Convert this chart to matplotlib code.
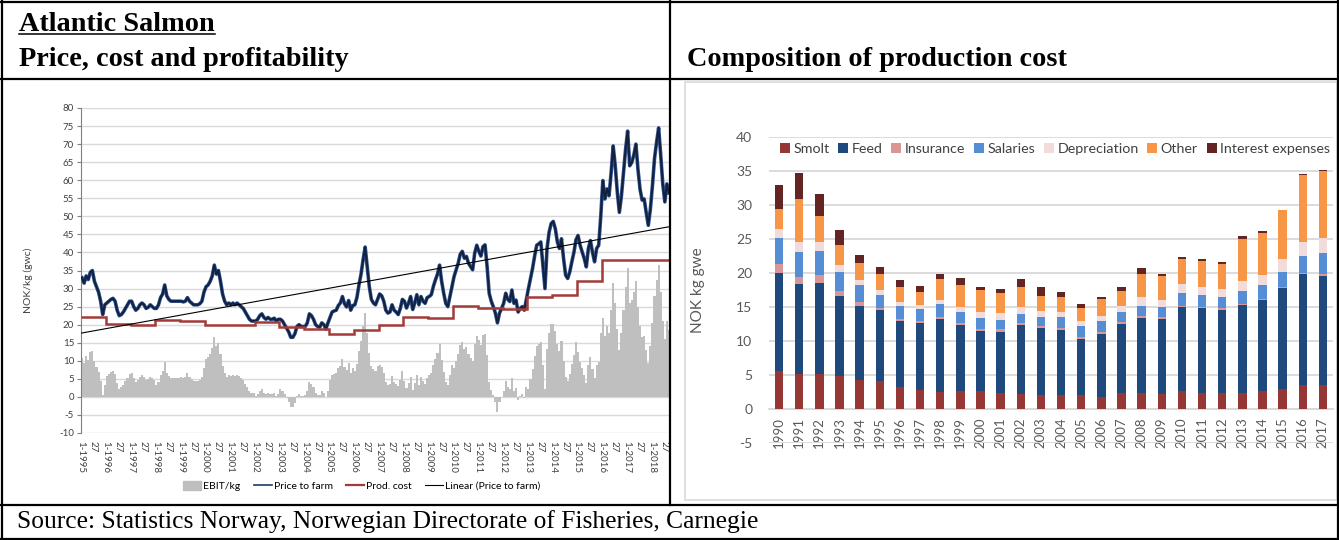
import matplotlib
matplotlib.use("Agg")
import matplotlib.pyplot as plt
import numpy as np
from matplotlib.lines import Line2D
from matplotlib.patches import Rectangle, Patch
import matplotlib.patheffects as pe

plt.rcParams["font.family"] = ["Lato", "DejaVu Sans"]
plt.rcParams["axes.unicode_minus"] = False

W, H = 1339, 540

# ---- left chart: price to farm (NOK/kg), one value per month ----
first_year = 1995
price_to_farm = [
    33.0, 31.5, 33.5, 32.5, 34.5, 35.0, 32.0, 30.5, 29.0, 26.5, 22.8, 25.5,  # 1995
    26.0, 26.5, 27.0, 27.3, 26.5, 24.0, 22.5, 22.8, 23.5, 24.5, 25.5, 26.5,  # 1996
    26.5, 25.0, 24.0, 24.5, 25.5, 26.0, 25.5, 24.5, 24.8, 25.5, 25.0, 24.5,  # 1997
    24.5, 25.5, 27.5, 28.5, 31.0, 28.0, 27.0, 26.5, 26.5, 26.5, 26.5, 26.5,  # 1998
    26.5, 26.3, 26.5, 27.5, 26.5, 26.0, 25.5, 25.5, 25.5, 25.8, 26.5, 29.0,  # 1999
    30.5, 31.0, 32.0, 33.5, 36.5, 34.0, 35.0, 32.0, 28.5, 26.5, 25.5, 26.0,  # 2000
    25.5, 26.0, 25.5, 26.0, 25.5, 25.0, 24.5, 23.5, 22.5, 21.5, 21.0, 21.0,  # 2001
    21.0, 21.5, 22.5, 23.0, 22.0, 21.5, 22.0, 21.5, 21.5, 21.8, 21.0, 21.5,  # 2002
    21.5, 21.0, 20.0, 19.0, 18.0, 16.5, 16.5, 17.5, 19.5, 20.0, 19.5, 19.5,  # 2003
    19.5, 20.5, 23.0, 22.5, 21.5, 20.0, 19.5, 19.3, 20.5, 20.0, 18.8, 20.5,  # 2004
    22.0, 23.5, 23.8, 24.0, 25.3, 26.0, 27.8, 25.8, 24.9, 26.7, 24.0, 25.3,  # 2005
    25.5, 27.5, 31.0, 34.0, 38.0, 41.5, 36.0, 30.5, 27.0, 26.0, 25.5, 27.0,  # 2006
    28.5, 28.0, 26.5, 24.0, 23.2, 23.5, 25.5, 24.0, 23.5, 22.8, 24.5, 27.0,  # 2007
    26.5, 24.6, 26.0, 27.8, 24.2, 26.0, 28.3, 25.5, 27.8, 26.5, 25.9, 27.5,  # 2008
    27.8, 28.3, 30.6, 32.4, 34.0, 36.5, 32.0, 28.7, 25.9, 25.0, 27.8, 30.5,  # 2009
    33.3, 35.2, 37.0, 39.5, 40.3, 38.4, 38.9, 37.0, 36.1, 35.2, 39.8, 42.0,  # 2010
    40.3, 39.0, 41.6, 42.1, 36.1, 28.7, 26.5, 25.0, 23.2, 20.5, 23.2, 24.5,  # 2011
    25.9, 28.7, 27.0, 26.4, 29.6, 25.9, 26.8, 23.5, 24.5, 25.0, 24.0, 27.0,  # 2012
    30.0, 32.8, 35.6, 39.0, 42.0, 42.4, 42.9, 36.5, 30.0, 41.1, 45.6, 48.0,  # 2013
    48.6, 46.6, 42.9, 41.1, 43.8, 38.3, 33.7, 32.8, 34.6, 37.4, 40.0, 43.5,  # 2014
    44.7, 42.0, 40.1, 38.3, 36.0, 41.1, 43.3, 40.0, 37.4, 41.1, 42.0, 50.0,  # 2015
    59.9, 54.8, 57.6, 55.7, 62.0, 69.5, 64.0, 56.7, 51.1, 55.7, 62.0, 68.5,  # 2016
    73.6, 64.0, 64.9, 67.0, 70.0, 63.0, 57.5, 54.5, 54.8, 51.0, 47.5, 52.0,  # 2017
    58.5, 66.0, 70.5, 74.5, 67.0, 59.0, 54.0, 59.0, 56.5,                    # 2018
]
cost_years = list(range(1995, 2019))
prod_cost = [22.2, 20.2, 19.9, 21.3, 21.0, 20.0, 19.8, 20.8, 19.3, 18.9, 17.4, 18.4,
             19.8, 22.2, 21.8, 25.2, 24.6, 24.3, 27.8, 28.3, 32.2, 38.0, 38.0, 38.0]

# ---- right chart: composition of production cost (NOK per kg gwe) ----
years = list(range(1990, 2018))
smolt = [5.6, 5.2, 5.2, 4.9, 4.3, 4.1, 3.3, 2.8, 2.5, 2.7, 2.6, 2.4, 2.2, 2.1,
         2.1, 2.1, 1.7, 2.3, 2.3, 2.2, 2.7, 2.4, 2.3, 2.4, 2.7, 2.9, 3.5, 3.5]
feed = [14.4, 13.2, 13.4, 11.7, 10.8, 10.4, 9.6, 9.9, 10.8, 9.6, 8.8, 8.9, 10.1, 9.8,
        9.5, 8.2, 9.4, 10.2, 11.1, 11.1, 12.3, 12.5, 12.3, 12.9, 13.3, 14.9, 16.3, 16.1]
insurance = [1.3, 1.0, 1.1, 0.7, 0.7, 0.4, 0.3, 0.2, 0.2, 0.3, 0.3, 0.4, 0.3, 0.3,
             0.3, 0.3, 0.2, 0.3, 0.3, 0.2, 0.2, 0.1, 0.2, 0.2, 0.2, 0.2, 0.2, 0.2]
salaries = [3.8, 3.7, 3.5, 2.9, 2.4, 1.9, 2.0, 1.8, 1.9, 1.7, 1.7, 1.4, 1.4, 1.4,
            1.6, 1.6, 1.6, 1.4, 1.5, 1.5, 1.9, 1.7, 1.6, 1.9, 2.0, 2.1, 2.5, 3.1]
depreciation = [1.3, 1.4, 1.4, 1.0, 0.8, 0.7, 0.5, 0.6, 0.7, 0.7, 0.8, 1.0, 1.0, 0.8,
                0.8, 0.8, 0.8, 1.0, 1.3, 1.0, 1.3, 1.3, 1.3, 1.4, 1.5, 1.9, 2.1, 2.2]
other = [3.0, 6.4, 3.8, 2.9, 2.4, 2.3, 2.2, 1.9, 3.0, 3.2, 3.3, 3.0, 3.0, 2.2,
         2.1, 1.8, 2.5, 2.2, 3.3, 3.5, 3.7, 3.8, 3.6, 6.2, 6.2, 7.2, 9.8, 9.9]
interest = [3.6, 3.8, 3.2, 2.2, 1.3, 1.1, 1.0, 0.9, 0.8, 1.0, 0.5, 0.5, 1.1, 1.3,
            0.8, 0.6, 0.3, 0.5, 1.0, 0.3, 0.3, 0.2, 0.3, 0.4, 0.3, 0.1, 0.1, 0.2]

components = ["Smolt", "Feed", "Insurance", "Salaries", "Depreciation", "Other", "Interest expenses"]
comp_colors = ["#953735", "#1F497D", "#D99694", "#558ED5", "#F2DCDB", "#F79646", "#632523"]


def fx(px):
    return px / W


def fy(py):
    return 1 - py / H


fig = plt.figure(figsize=(W / 100, H / 100), dpi=100)

# ---- table frame ----
def hline(y, x0=1, x1=1338):
    fig.add_artist(Line2D([fx(x0), fx(x1)], [fy(y), fy(y)], color="black", lw=1.6))


def vline(x, y0=1, y1=539):
    fig.add_artist(Line2D([fx(x), fx(x)], [fy(y0), fy(y1)], color="black", lw=1.6))


hline(1.5)
hline(79)
hline(505)
hline(538.5)
vline(1.5)
vline(1337.5)
vline(670, 1, 505)

serif = "Liberation Serif"
t1 = fig.text(fx(19), fy(31), "Atlantic Salmon", family=serif, weight="bold", fontsize=20.3, va="baseline")
fig.text(fx(19), fy(66), "Price, cost and profitability", family=serif, weight="bold", fontsize=20.3, va="baseline")
fig.text(fx(687), fy(66), "Composition of production cost", family=serif, weight="bold", fontsize=20.3, va="baseline")
fig.text(fx(17), fy(528), "Source: Statistics Norway, Norwegian Directorate of Fisheries, Carnegie",
         family=serif, fontsize=18.4, va="baseline")

# underline the first title
fig.canvas.draw()
bb = t1.get_window_extent(fig.canvas.get_renderer())
fig.add_artist(Line2D([bb.x0 / W, bb.x1 / W], [fy(34), fy(34)], color="black", lw=1.1))

# ---- left chart ----
ax = fig.add_axes([fx(81), fy(433), fx(670) - fx(81), fy(108) - fy(433)])
price = np.array(price_to_farm)
t = first_year + np.arange(len(price)) / 12
cost_m = np.array(prod_cost)[(t.astype(int) - cost_years[0])]
ebit = price - cost_m
t_end = t[-1] + 1 / 12

ax.bar(t + 1 / 24, ebit, width=1 / 12, color="#BFBFBF", linewidth=0, zorder=2)
ax.plot(t + 1 / 24, price, color="#14213D", lw=1.5, zorder=3,
        path_effects=[pe.Stroke(linewidth=2.6, foreground="#2F5597"), pe.Normal()])
edges = np.array(cost_years + [cost_years[-1] + 1], dtype=float)
edges[-1] = t_end
ax.stairs(prod_cost, edges, baseline=None, color="#A33B38", lw=1.8, zorder=4)
coef = np.polyfit(t + 1 / 24, price, 1)
tt = np.array([first_year, t_end])
ax.plot(tt, np.polyval(coef, tt), color="black", lw=0.8, zorder=5)

ax.set_xlim(first_year, t_end)
ax.set_ylim(-10, 80)
ax.set_yticks(range(-10, 81, 5))
ax.yaxis.grid(True, color="#D9D9D9", lw=1.0)
ax.set_axisbelow(True)
for s in ["top", "right", "bottom"]:
    ax.spines[s].set_visible(False)
ax.spines["left"].set_color("#808080")
ax.tick_params(axis="y", length=3, width=0.8, color="#808080", labelsize=7, labelcolor="#404040", pad=2)

xt, xl = [], []
for y in cost_years:
    xt += [y, y + 26 / 52]
    xl += ["1-%d" % y, "27"]
ax.set_xticks(xt)
ax.set_xticklabels(xl, rotation=270, fontsize=7, color="#404040")
ax.tick_params(axis="x", length=0, pad=6)
ax.set_ylabel("NOK/kg (gwc)", fontsize=7.5, color="#404040")
ax.yaxis.set_label_coords((33 - 81) / 589, 0.47)

left_handles = [Patch(color="#BFBFBF"),
                Line2D([], [], color="#1F3864", lw=1.2),
                Line2D([], [], color="#A33B38", lw=1.6),
                Line2D([], [], color="black", lw=0.8)]
fig.legend(left_handles, ["EBIT/kg", "Price to farm", "Prod. cost", "Linear (Price to farm)"],
           loc="center", bbox_to_anchor=(fx(362), fy(486)), ncol=4, frameon=False,
           fontsize=7.5, handlelength=1.7, handleheight=0.9, columnspacing=1.3, handletextpad=0.2)

# ---- right chart ----
fig.add_artist(Rectangle((fx(685), fy(500)), fx(1337) - fx(685), fy(82) - fy(500),
                         transform=fig.transFigure, fill=False, edgecolor="#D9D9D9", lw=1.2))

axr = fig.add_axes([fx(769), fy(443), fx(1333) - fx(769), fy(137) - fy(443)])
x = np.arange(len(years))
bottom = np.zeros(len(years))
for name, vals, col in zip(components, [smolt, feed, insurance, salaries, depreciation, other, interest], comp_colors):
    axr.bar(x, vals, 0.42, bottom=bottom, color=col, label=name, linewidth=0, zorder=3)
    bottom += np.array(vals)

axr.set_xlim(-0.5, len(years) - 0.5)
axr.set_ylim(-5, 40)
axr.set_yticks(range(-5, 41, 5))
axr.yaxis.grid(True, color="#D9D9D9", lw=1.3)
axr.set_axisbelow(True)
for s in ["top", "right", "left"]:
    axr.spines[s].set_visible(False)
axr.spines["bottom"].set_position(("data", 0))
axr.spines["bottom"].set_color("#D9D9D9")
axr.spines["bottom"].set_linewidth(1.3)
axr.set_xticks(x)
axr.set_xticklabels([str(y) for y in years], rotation=90, fontsize=9.5, color="#595959")
axr.tick_params(axis="x", length=0, pad=6)
axr.tick_params(axis="y", length=0, pad=12, labelsize=10, labelcolor="#595959")
axr.set_ylabel("NOK kg gwe", fontsize=11, color="#595959")
axr.yaxis.set_label_coords((705 - 769) / 564, 0.5)

fig.legend(*axr.get_legend_handles_labels(), loc="center", bbox_to_anchor=(fx(1055), fy(149)),
           ncol=7, frameon=False, fontsize=10.3, labelcolor="#404040", handlelength=0.7,
           handleheight=0.7, handletextpad=0.25, columnspacing=0.6)

fig.savefig("out.png", dpi=100)
